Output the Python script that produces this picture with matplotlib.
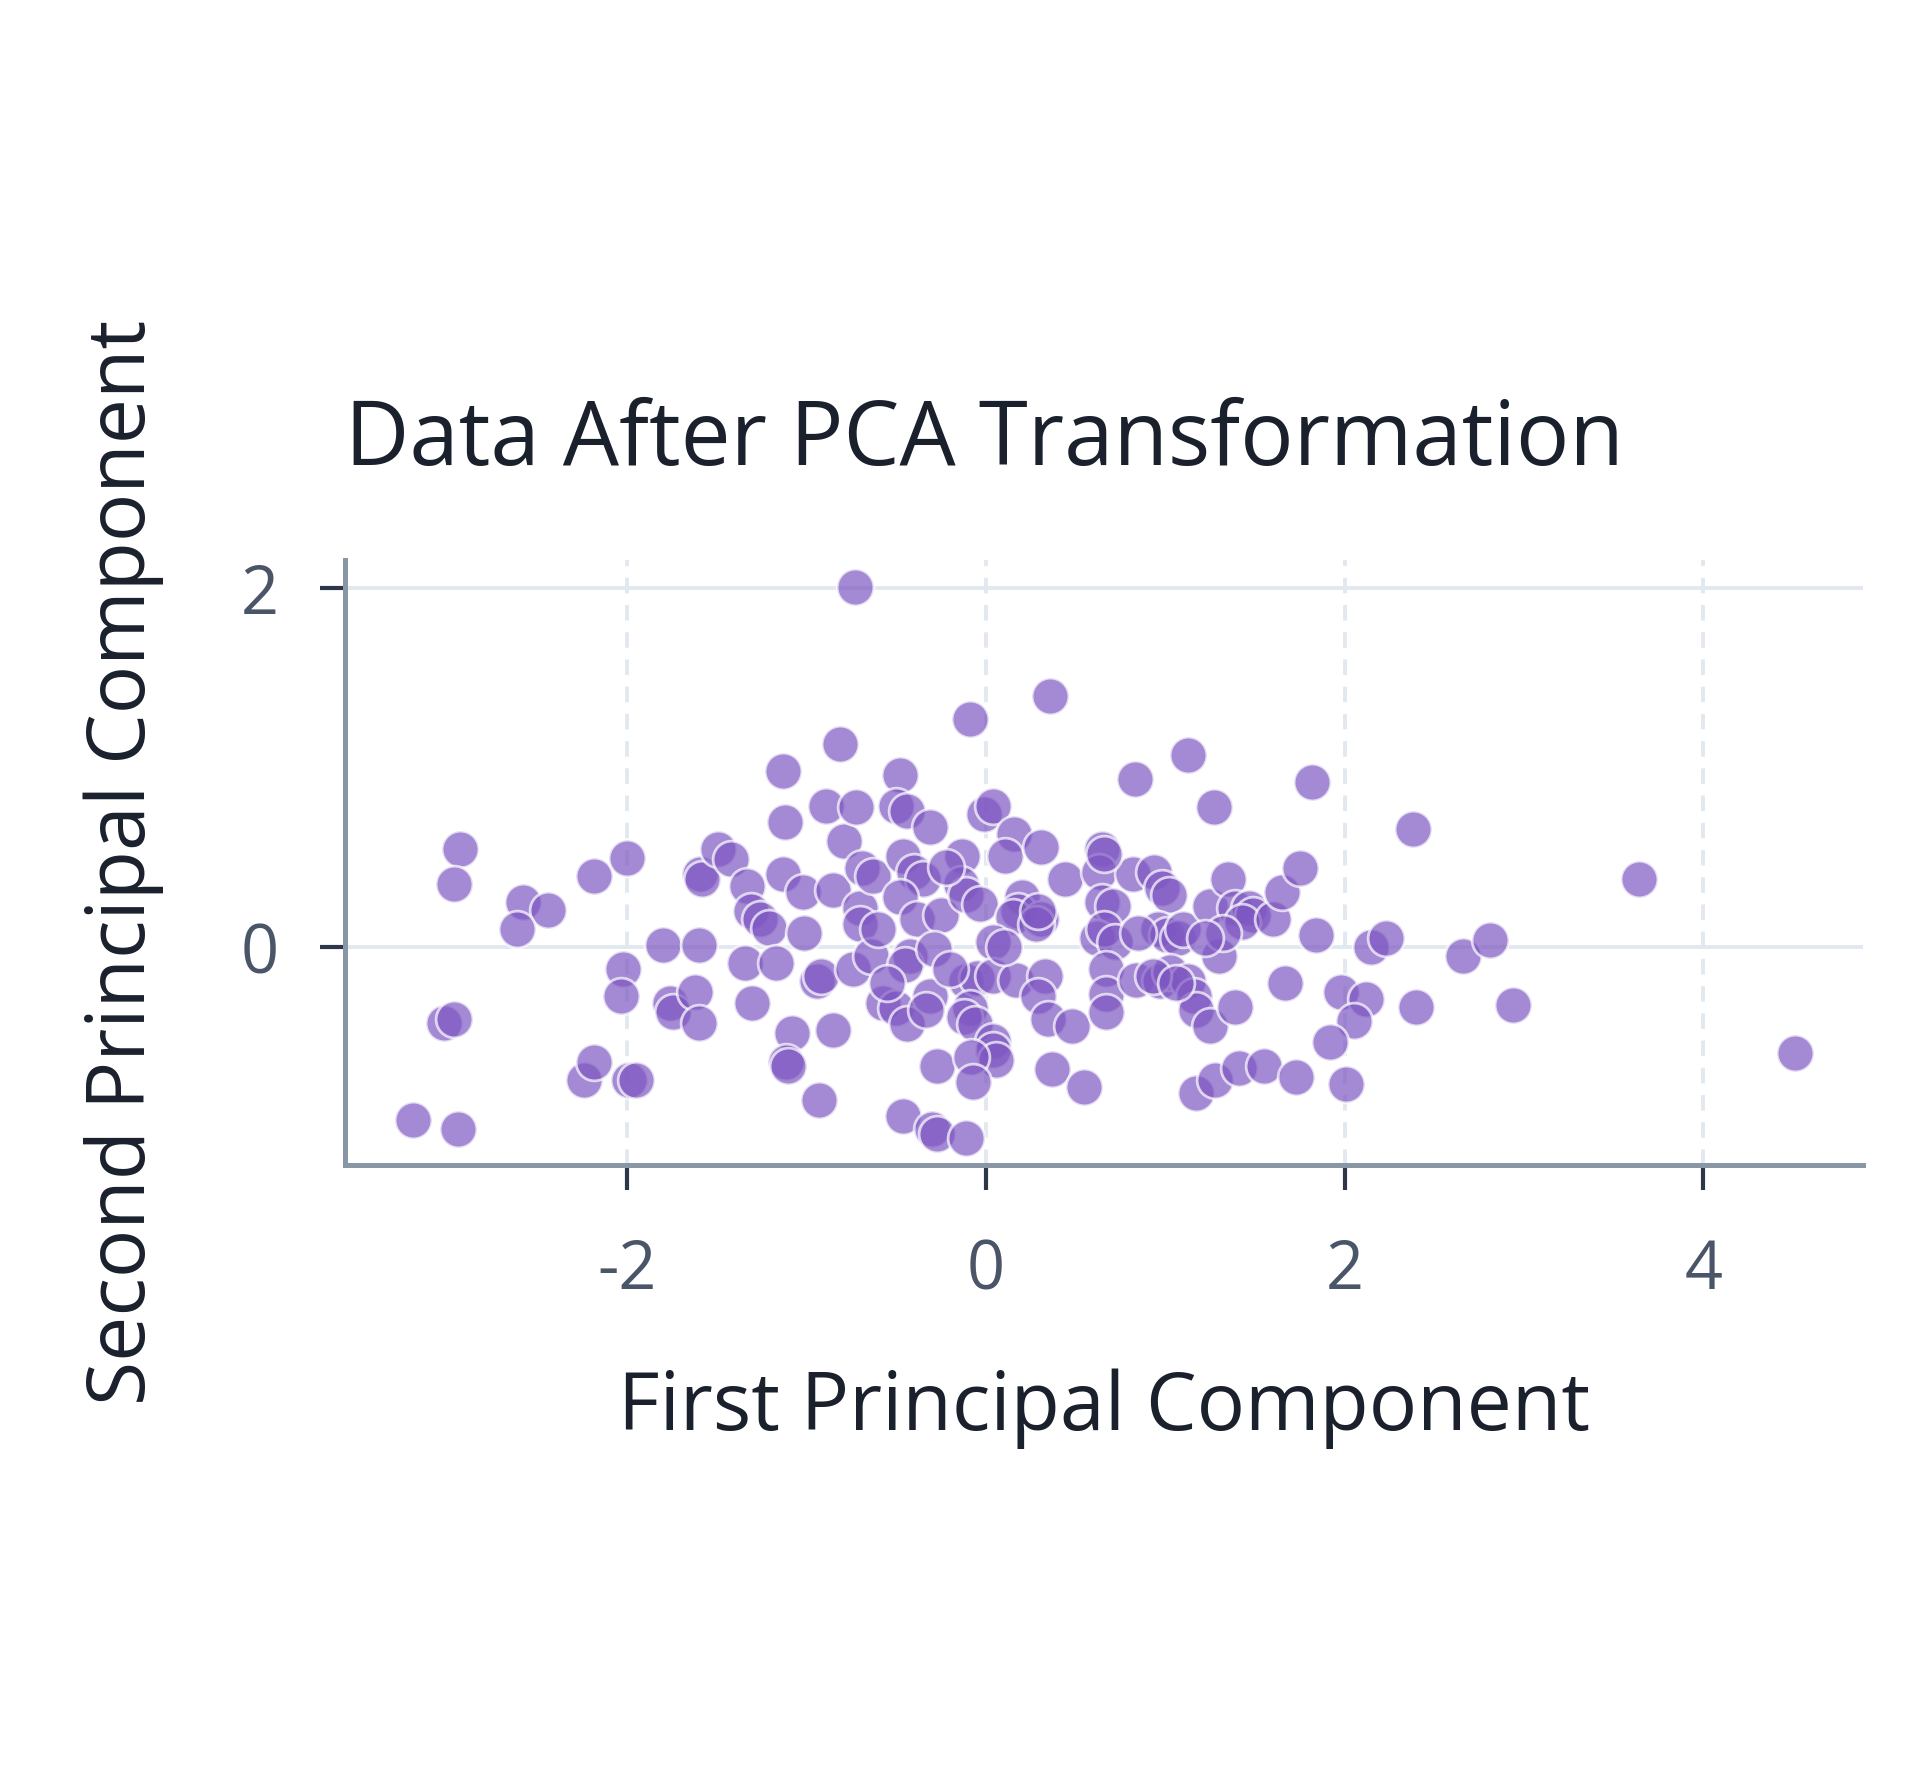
import numpy as np
import matplotlib.pyplot as plt
from matplotlib.ticker import MultipleLocator

plt.rcParams['font.family'] = ['Open Sans', 'DejaVu Sans']
plt.rcParams['axes.unicode_minus'] = False

# PCA scores
pc1 = [
    -0.73, 0.36, -0.09, -0.81, 1.13, -1.13, -0.48, 0.83, 1.82, 1.27,
    2.38, 3.64, 4.51, -2.93, -2.96, -2.58, -2.44, -2.61, -2.18, -2.00,
    -3.02, -2.96, -3.19, -2.94, -2.24, -2.18, -1.99, -1.95, -2.02, -2.03,
    -1.80, -1.60, -1.76, -1.74, -1.62, -1.60, -1.59, -1.58, -1.49, -1.42,
    -1.33, -1.31, -1.26, -1.21, -1.13, -1.12, -1.02, -1.01, -1.34, -1.17,
    -1.30, -1.08, -1.11, -1.10, -0.85, -0.93, -0.94, -0.92, -0.89, -0.79,
    -0.72, -0.85, -0.70, -0.70, -0.69, -0.63, -0.74, -0.64, -0.50, -0.44,
    -0.31, -0.46, -0.40, -0.35, -0.48, -0.38, -0.25, -0.42, -0.45, -0.29,
    -0.57, -0.50, -0.44, -0.31, -0.33, -0.27, -0.46, -0.30, -0.27, -0.11,
    -0.13, -0.14, -0.11, -0.03, -0.01, 0.04, 0.16, 0.11, 0.31, 0.20,
    0.18, 0.15, 0.31, 0.28, 0.44, 0.04, -0.11, -0.05, 0.04, 0.17,
    0.33, -0.09, -0.12, -0.06, 0.04, 0.04, 0.06, -0.08, -0.07, 0.29,
    0.35, 0.48, 0.37, 0.55, 0.65, 0.63, 0.65, 0.71, 0.82, 0.94,
    0.98, 1.02, 0.62, 0.66, 0.72, 0.67, 0.67, 0.67, 0.84, 0.96,
    1.01, 1.07, 1.10, 0.97, 1.03, 1.13, 1.16, 1.17, 1.25, 1.17,
    1.28, 1.25, 1.35, 1.39, 1.47, 1.49, 1.43, 1.30, 1.60, 1.65,
    1.75, 1.84, 1.39, 1.41, 1.55, 1.73, 1.67, 1.98, 2.12, 2.05,
    1.92, 2.01, 2.15, 2.23, 2.66, 2.81, 2.40, 2.94, 0.66, 0.29,
    0.85, 1.32, 1.22, 0.93, 1.06, -0.20, -0.60, -0.55, 0.10, -0.22,
]
pc2 = [
    2.01, 1.40, 1.27, 1.13, 1.07, 0.98, 0.96, 0.94, 0.92, 0.78,
    0.66, 0.38, -0.59, 0.55, 0.35, 0.25, 0.21, 0.10, 0.40, 0.50,
    -0.42, -0.40, -0.96, -1.01, -0.74, -0.64, -0.74, -0.74, -0.12, -0.27,
    0.01, 0.01, -0.31, -0.36, -0.25, -0.42, 0.41, 0.38, 0.55, 0.49,
    0.34, 0.20, 0.16, 0.11, 0.41, 0.70, 0.31, 0.08, -0.09, -0.09,
    -0.31, -0.48, -0.64, -0.66, -0.46, -0.85, -0.19, -0.16, 0.79, 0.59,
    0.78, 0.32, 0.22, 0.13, 0.44, 0.40, -0.12, -0.05, 0.79, 0.76,
    0.67, 0.51, 0.42, 0.38, 0.28, 0.16, 0.18, -0.05, -0.10, -0.01,
    -0.31, -0.34, -0.43, -0.27, -0.35, -0.66, -0.94, -1.01, -1.04, -1.06,
    0.51, 0.35, 0.29, 0.24, 0.74, 0.79, 0.63, 0.51, 0.56, 0.28,
    0.20, 0.17, 0.16, 0.13, 0.38, 0.03, -0.19, -0.17, -0.16, -0.18,
    -0.16, -0.34, -0.39, -0.43, -0.52, -0.57, -0.63, -0.61, -0.75, -0.27,
    -0.40, -0.44, -0.68, -0.78, 0.55, 0.42, 0.25, 0.23, 0.41, 0.42,
    0.33, 0.29, 0.05, 0.10, 0.03, -0.12, -0.26, -0.36, -0.18, 0.10,
    0.07, 0.05, 0.10, -0.19, -0.14, -0.19, -0.27, -0.35, -0.44, -0.81,
    -0.74, 0.23, 0.38, 0.22, 0.22, 0.18, 0.14, -0.05, 0.16, 0.31,
    0.44, 0.07, -0.33, -0.67, -0.66, -0.72, -0.20, -0.25, -0.29, -0.41,
    -0.53, -0.76, 0.00, 0.05, -0.05, 0.04, -0.33, -0.32, 0.52, 0.20,
    0.08, 0.08, 0.05, -0.16, -0.20, -0.12, 0.10, -0.20, 0.00, 0.45,
]

x_ticks = [-2, 0, 2, 4]
y_ticks = [0, 2]

title = 'Data After PCA Transformation'
x_label = 'First Principal Component'
y_label = 'Second Principal Component'


def draw():
    fig = plt.figure(figsize=(9.6, 8.96), dpi=200, facecolor='white')
    ax = fig.add_axes([0.1797, 0.3497, 0.7907, 0.338])

    ax.scatter(pc1, pc2, s=175, color='#7E57C2', alpha=0.7,
               edgecolors='white', linewidths=1.0, zorder=3)

    ax.set_xlim(-3.57, 4.89)
    ax.set_ylim(-1.215, 2.16)
    ax.set_xticks(x_ticks)
    ax.set_yticks(y_ticks)

    # grid: dashed verticals, solid horizontals
    ax.set_axisbelow(True)
    ax.xaxis.grid(True, color='#e2e8f0', linestyle=(0, (4, 3)), linewidth=1.4)
    ax.yaxis.grid(True, color='#e2e8f0', linestyle='-', linewidth=1.4)

    for side in ['top', 'right']:
        ax.spines[side].set_visible(False)
    for side in ['left', 'bottom']:
        ax.spines[side].set_color('#8896a5')
        ax.spines[side].set_linewidth(1.8)

    ax.tick_params(length=9, width=1.5, color='#2d3748', labelsize=24,
                   labelcolor='#4a5568')
    ax.tick_params(axis='x', pad=17)
    ax.tick_params(axis='y', pad=15)

    ax.set_title(title, loc='left', fontsize=32, color='#1a202c', pad=34)
    ax.set_xlabel(x_label, fontsize=29, color='#1a202c')
    ax.set_ylabel(y_label, fontsize=29, color='#1a202c')
    ax.xaxis.set_label_coords(0.5, -0.335)
    ax.yaxis.set_label_coords(-0.119, 0.5)

    fig.savefig('out.png', dpi=200, facecolor='white')


if __name__ == '__main__':
    draw()
